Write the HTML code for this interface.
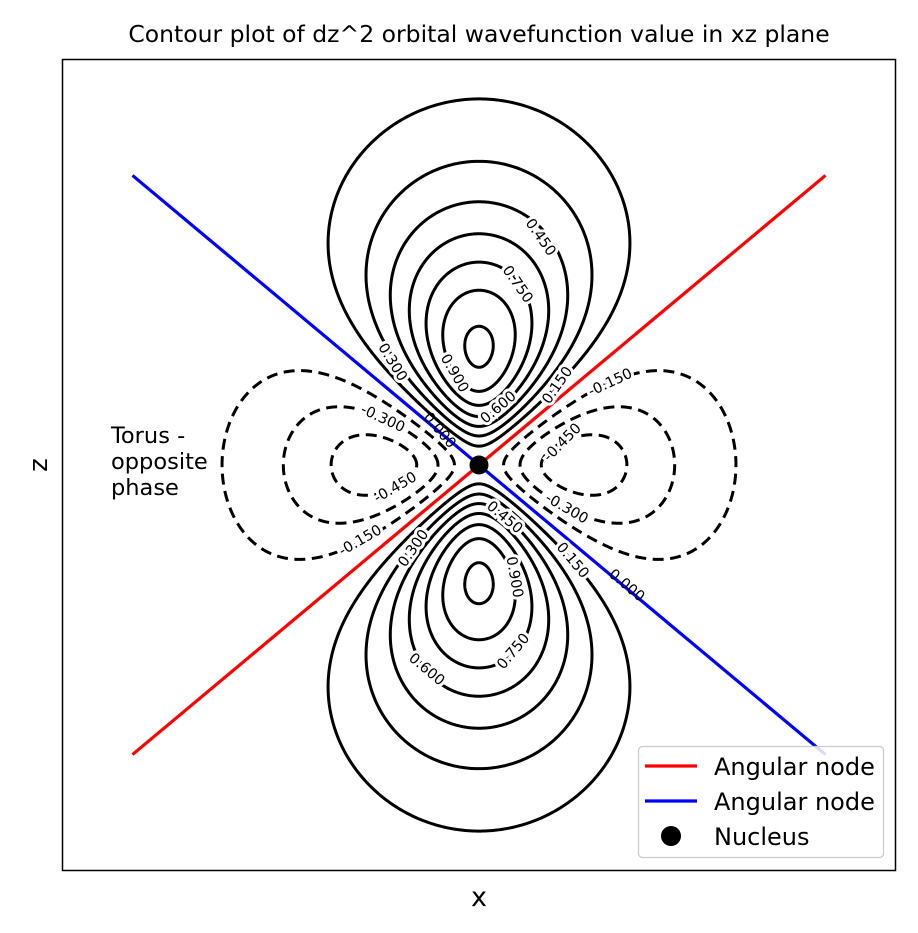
<!DOCTYPE html>
<html><head><meta charset="utf-8"><style>
html,body{margin:0;padding:0;background:#fff;}
svg{display:block;font-family:"DejaVu Sans","Liberation Sans",sans-serif;}
.cl{font-size:14.5px;fill:#000;stroke:#fff;stroke-width:6px;paint-order:stroke;}
.cz{font-size:14.5px;fill:#000;}
</style></head><body>
<svg id="chart" width="918" height="933" viewBox="0 0 918 933">
<rect x="0" y="0" width="918" height="933" fill="#fff"/>
<text x="479" y="42" text-anchor="middle" font-size="23.5">Contour plot of dz^2 orbital wavefunction value in xz plane</text>
<g id="contours"></g>
<g id="nodes"></g>
<g>
<text class="cl" transform="translate(541,237) rotate(55)" text-anchor="middle" dy="5">0.450</text>
<text class="cl" transform="translate(518,284) rotate(55)" text-anchor="middle" dy="5">0.750</text>
<text class="cl" transform="translate(393,362) rotate(58)" text-anchor="middle" dy="5">0.300</text>
<text class="cl" transform="translate(455,373) rotate(60)" text-anchor="middle" dy="5">0.900</text>
<text class="cl" transform="translate(557,385) rotate(-55)" text-anchor="middle" dy="5">0.150</text>
<text class="cl" transform="translate(498,407) rotate(-40)" text-anchor="middle" dy="5">0.600</text>
<text class="cl" transform="translate(610,382) rotate(-25)" text-anchor="middle" dy="5">-0.150</text>
<text class="cl" transform="translate(383,418) rotate(25)" text-anchor="middle" dy="5">-0.300</text>
<text class="cz" transform="translate(440,430) rotate(50)" text-anchor="middle" dy="5">0.000</text>
<text class="cl" transform="translate(562,442) rotate(-45)" text-anchor="middle" dy="5">-0.450</text>
<text class="cl" transform="translate(395,487) rotate(-30)" text-anchor="middle" dy="5">-0.450</text>
<text class="cl" transform="translate(505,517) rotate(40)" text-anchor="middle" dy="5">0.450</text>
<text class="cl" transform="translate(567,508) rotate(30)" text-anchor="middle" dy="5">-0.300</text>
<text class="cl" transform="translate(360,540) rotate(-30)" text-anchor="middle" dy="5">-0.150</text>
<text class="cl" transform="translate(413,548) rotate(-55)" text-anchor="middle" dy="5">0.300</text>
<text class="cl" transform="translate(573,560) rotate(50)" text-anchor="middle" dy="5">0.150</text>
<text class="cl" transform="translate(515,577) rotate(80)" text-anchor="middle" dy="5">0.900</text>
<text class="cz" transform="translate(627,585) rotate(40)" text-anchor="middle" dy="5">0.000</text>
<text class="cl" transform="translate(427,669) rotate(40)" text-anchor="middle" dy="5">0.600</text>
<text class="cl" transform="translate(513,651) rotate(-50)" text-anchor="middle" dy="5">0.750</text>
</g>
<circle id="nucleus" cx="479" cy="465" r="9.5" fill="#000"/>
<g font-size="22.5">
<text x="111" y="443">Torus -</text>
<text x="111" y="469">opposite</text>
<text x="111" y="495">phase</text>
</g>
<rect x="62.5" y="59.5" width="833" height="811" fill="none" stroke="#000" stroke-width="1.5"/>
<text x="479" y="906" text-anchor="middle" font-size="27">x</text>
<text transform="translate(47,465) rotate(-90)" text-anchor="middle" font-size="26">z</text>
<g>
<rect x="638.5" y="746.5" width="245" height="111" rx="4" fill="#fff" fill-opacity="0.85" stroke="#ccc" stroke-width="1.3"/>
<line x1="645" y1="766" x2="697" y2="766" stroke="#f00" stroke-width="3.2"/>
<text x="714" y="775" font-size="24">Angular node</text>
<line x1="645" y1="801" x2="697" y2="801" stroke="#00f" stroke-width="3.2"/>
<text x="714" y="810" font-size="24">Angular node</text>
<circle cx="671" cy="836" r="10" fill="#000"/>
<text x="714" y="845" font-size="24">Nucleus</text>
</g>
</svg>
<script>
const posLevels = [0.15, 0.30, 0.45, 0.60, 0.75, 0.90, 1.05];
const negLevels = [-0.15, -0.30, -0.45];
const nodeXRange = [-7, 7];
const nodeSlopes = [0.7071, -0.7071];
const nucleus = [0, 0];

const CX = 479, CZ = 465, SX = 49.5, SZ = 58.5;
const px = x => CX + x * SX;
const pz = z => CZ - z * SZ;
const h = r => r * r * Math.exp(-r);
function root(v, a, b) {
  const inc = h(b) > h(a);
  for (let i = 0; i < 80; i++) {
    const m = (a + b) / 2;
    if ((h(m) < v) === inc) a = m; else b = m;
  }
  return (a + b) / 2;
}
const SVGNS = "http://www.w3.org/2000/svg";
const cg = document.getElementById('contours');
function addPath(d, dashed, name) {
  const p = document.createElementNS(SVGNS, 'path');
  p.setAttribute('d', d);
  p.setAttribute('fill', 'none');
  p.setAttribute('stroke', '#000');
  p.setAttribute('stroke-width', '3');
  if (dashed) p.setAttribute('stroke-dasharray', '11 6.5');
  
  
  cg.appendChild(p);
}
const N = 400;
posLevels.forEach(c => {
  const v = c / 2, hmax = h(2);
  if (v >= hmax) return;
  const r1 = root(v, 1e-6, 2), r2 = root(v, 2, 60);
  [1, -1].forEach(sg => {
    const right = [], left = [];
    for (let i = 0; i <= N; i++) {
      const t = Math.PI * i / N;
      const r = r1 + (r2 - r1) * (1 - Math.cos(t)) / 2;
      let c2 = (c / h(r) + 1) / 3; c2 = Math.min(1, c2);
      const co = Math.sqrt(c2), si = Math.sqrt(1 - c2);
      right.push([r * si, sg * r * co]);
      left.push([-r * si, sg * r * co]);
    }
    const pts = right.concat(left.reverse());
    const d = 'M' + pts.map(p => px(p[0]).toFixed(2) + ',' + pz(p[1]).toFixed(2)).join('L') + 'Z';
    addPath(d, false, 'contour-' + c.toFixed(2) + (sg > 0 ? '-top' : '-bottom'));
  });
});
negLevels.forEach(c => {
  const v = -c, hmax = h(2);
  if (v >= hmax) return;
  const r1 = root(v, 1e-6, 2), r2 = root(v, 2, 60);
  [1, -1].forEach(sg => {
    const up = [], dn = [];
    for (let i = 0; i <= N; i++) {
      const t = Math.PI * i / N;
      const r = r1 + (r2 - r1) * (1 - Math.cos(t)) / 2;
      let c2 = (1 - v / h(r)) / 3; c2 = Math.max(0, c2);
      const co = Math.sqrt(c2), si = Math.sqrt(1 - c2);
      up.push([sg * r * si, r * co]);
      dn.push([sg * r * si, -r * co]);
    }
    const pts = up.concat(dn.reverse());
    const d = 'M' + pts.map(p => px(p[0]).toFixed(2) + ',' + pz(p[1]).toFixed(2)).join('L') + 'Z';
    addPath(d, true, 'contour-' + c.toFixed(2) + (sg > 0 ? '-right' : '-left'));
  });
});
const ng = document.getElementById('nodes');
const colors = ['#f00', '#00f'];
nodeSlopes.forEach((m, i) => {
  const l = document.createElementNS(SVGNS, 'line');
  l.setAttribute('x1', px(nodeXRange[0])); l.setAttribute('y1', pz(m * nodeXRange[0]));
  l.setAttribute('x2', px(nodeXRange[1])); l.setAttribute('y2', pz(m * nodeXRange[1]));
  l.setAttribute('stroke', colors[i]); l.setAttribute('stroke-width', '3.2');
  
  
  ng.appendChild(l);
});
const nc = document.getElementById('nucleus');
nc.setAttribute('cx', px(nucleus[0])); nc.setAttribute('cy', pz(nucleus[1]));
</script>
</body></html>
